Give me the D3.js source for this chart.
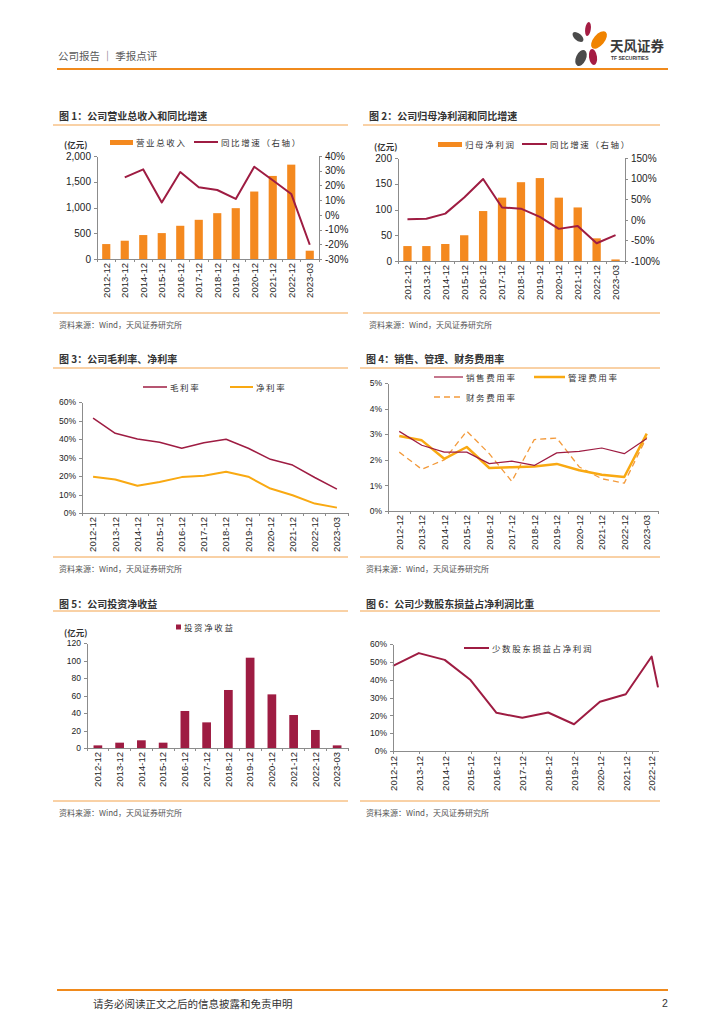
<!DOCTYPE html>
<html>
<head>
<meta charset="utf-8">
<script src="https://cdn.jsdelivr.net/npm/d3@7"></script>
<style>
  body { margin: 0; background: #fff; }
  svg { font-family: 'Liberation Sans', Arial, 'Noto Sans CJK SC', sans-serif; }
  .cn { font-family: 'Noto Sans CJK SC', sans-serif; }
  .axis path, .axis line { stroke: #8c8c8c; shape-rendering: crispEdges; }
  .axis text { fill: #222; }
</style>
</head>
<body>
<svg id="page" width="724" height="1024"></svg>
<script>
const years = ['2012-12', '2013-12', '2014-12', '2015-12', '2016-12', '2017-12',
               '2018-12', '2019-12', '2020-12', '2021-12', '2022-12', '2023-03']

// 图1 营业总收入(亿元) / 同比增速(%)
const revenue = [290, 355, 465, 503, 645, 761, 890, 987, 1310, 1613, 1832, 161]
const revenueYoy = [null, 25.5, 30.9, 8.4, 29.1, 18.7, 16.9, 10.8, 32.7, 23.5, 14.2, -20.3]
// 图2 归母净利润(亿元) / 同比增速(%)
const netProfit = [29, 29, 33, 50, 97, 123, 153, 161, 123, 104, 44, 3]
const netProfitYoy = [1.6, 2.4, 15, 54, 99, 30, 27, 7, -22, -15, -57, -37]
// 图3 毛利率 / 净利率 (%)
const grossMargin = [51.3, 43.1, 40.0, 38.2, 35.0, 38.0, 39.9, 35.0, 29.0, 25.9, 19.2, 12.9]
const netMargin = [19.6, 18.1, 14.7, 16.8, 19.4, 20.1, 22.3, 19.6, 13.2, 9.6, 5.1, 2.9]
// 图4 费用率 (%)
const salesRate = [3.11, 2.57, 2.30, 2.30, 1.85, 1.95, 1.78, 2.27, 2.33, 2.46, 2.24, 2.83]
const adminRate = [2.93, 2.76, 2.04, 2.50, 1.68, 1.71, 1.74, 1.84, 1.59, 1.42, 1.33, 3.02]
const financeRate = [2.30, 1.63, 2.00, 3.12, 2.24, 1.16, 2.79, 2.85, 1.72, 1.26, 1.09, 2.89]
// 图5 投资净收益(亿元)
const investIncome = [3.0, 6.1, 8.8, 6.1, 42.3, 29.3, 66.3, 103.2, 61.3, 37.7, 20.6, 3.0]
// 图6 少数股东损益占净利润 (%)
const minorityShare = [47.7, 54.9, 51.1, 39.8, 21.4, 18.6, 21.6, 15.0, 27.6, 31.8, 53.0, 35.7]

const orange = '#f4891f'
const crimson = '#9e1c42'
const yellow = '#f9a912'
const dashOrange = '#f39a3b'
const rule = '#f3a34c'

const svg = d3.select('#page')

// page header / footer
svg.append('text').attr('class', 'cn').attr('x', 58).attr('y', 55)
   .attr('dominant-baseline', 'central').style('font-size', '10.5px').attr('fill', '#595959')
   .text('公司报告 ｜ 季报点评')
svg.append('line').attr('x1', 57).attr('x2', 668).attr('y1', 69).attr('y2', 69)
   .attr('stroke', '#f08a1c').attr('stroke-width', 2)

let logo = svg.append('g')
logo.append('ellipse').attr('cx', 578).attr('cy', 37).attr('rx', 3.5).attr('ry', 6.5)
    .attr('transform', 'rotate(-50,578,37)').attr('fill', '#4b4b4b')
logo.append('ellipse').attr('cx', 588).attr('cy', 29).attr('rx', 2.8).attr('ry', 7)
    .attr('transform', 'rotate(8,588,29)').attr('fill', '#a51c43')
logo.append('ellipse').attr('cx', 599).attr('cy', 40).attr('rx', 5.5).attr('ry', 10.5)
    .attr('transform', 'rotate(40,599,40)').attr('fill', '#f08300')
logo.append('ellipse').attr('cx', 581).attr('cy', 58).attr('rx', 5).attr('ry', 8.5)
    .attr('transform', 'rotate(25,581,58)').attr('fill', '#4b4b4b')
logo.append('ellipse').attr('cx', 593).attr('cy', 57).attr('rx', 4).attr('ry', 8)
    .attr('transform', 'rotate(-8,593,57)').attr('fill', '#a51c43')
logo.append('text').attr('class', 'cn').attr('x', 610).attr('y', 45).attr('dominant-baseline', 'central')
    .style('font-size', '13.5px').style('font-weight', 'bold').attr('fill', '#3a3a3a').text('天风证券')
logo.append('text').attr('x', 611).attr('y', 58).attr('dominant-baseline', 'central')
    .style('font-size', '5px').style('font-weight', 'bold').attr('fill', '#3a3a3a').text('TF SECURITIES')

svg.append('line').attr('x1', 57).attr('x2', 668).attr('y1', 990).attr('y2', 990)
   .attr('stroke', '#f08a1c').attr('stroke-width', 2)
svg.append('text').attr('class', 'cn').attr('x', 93).attr('y', 1003).attr('dominant-baseline', 'central')
   .style('font-size', '10.5px').attr('fill', '#333').text('请务必阅读正文之后的信息披露和免责申明')
svg.append('text').attr('x', 662).attr('y', 1003).attr('dominant-baseline', 'central')
   .style('font-size', '10.5px').attr('fill', '#333').text('2')

function panel(x0, x1, titleY, ruleY, bottomY, title) {
  svg.append('text').attr('class', 'cn').attr('x', x0 + 6).attr('y', titleY)
     .attr('dominant-baseline', 'central').style('font-size', '10px').style('font-weight', 'bold')
     .attr('fill', '#333').text(title)
  svg.append('line').attr('x1', x0).attr('x2', x1).attr('y1', ruleY).attr('y2', ruleY)
     .attr('stroke', rule).attr('stroke-width', 1)
  svg.append('line').attr('x1', x0).attr('x2', x1).attr('y1', bottomY).attr('y2', bottomY)
     .attr('stroke', rule).attr('stroke-width', 1)
  svg.append('text').attr('class', 'cn').attr('x', x0 + 6).attr('y', bottomY + 11)
     .attr('dominant-baseline', 'central').style('font-size', '8px').attr('fill', '#555')
     .text('资料来源：Wind，天风证券研究所')
}

function categoryAxis(left, right, bottom) {
  let x = d3.scaleBand().domain(years).range([left, right])
  let g = svg.append('g').attr('class', 'axis').attr('transform', 'translate(0,' + bottom + ')')
  g.call(d3.axisBottom(x).tickSize(0).tickSizeOuter(0))
  g.selectAll('text')
   .attr('transform', 'rotate(-90)')
   .attr('x', -4).attr('y', 0).attr('dy', '0.35em')
   .style('text-anchor', 'end').style('font-size', '9.5px')
  g.selectAll('.boundary')
   .data(d3.range(years.length + 1))
   .enter().append('line')
   .attr('class', 'boundary')
   .attr('x1', i => left + i * x.step()).attr('x2', i => left + i * x.step())
   .attr('y1', 0).attr('y2', 3)
  return x
}

function valueAxis(y, xPos, side, ticks, fmt, size) {
  let axis = side === 'left' ? d3.axisLeft(y) : d3.axisRight(y)
  axis.tickValues(ticks).tickFormat(fmt).tickSize(3).tickSizeOuter(0).tickPadding(3)
  let g = svg.append('g').attr('class', 'axis').attr('transform', 'translate(' + xPos + ',0)').call(axis)
  g.selectAll('text').style('font-size', size)
}

function legendLine(x, y, w, color, width, dash, label) {
  svg.append('line').attr('x1', x).attr('x2', x + w).attr('y1', y).attr('y2', y)
     .attr('stroke', color).attr('stroke-width', width).attr('stroke-dasharray', dash)
  legendText(x + w + 3, y, label)
}

function legendText(x, y, label) {
  svg.append('text').attr('class', 'cn').attr('x', x).attr('y', y)
     .attr('dominant-baseline', 'central').style('font-size', '8.5px').style('letter-spacing', '1.6px')
     .attr('fill', '#333').text(label)
}

function unitLabel(x, y) {
  svg.append('text').attr('class', 'cn').attr('x', x).attr('y', y).attr('dominant-baseline', 'central')
     .style('font-size', '8.5px').style('font-weight', 'bold').attr('fill', '#333').text('(亿元)')
}

function bars(x, y, values, color, frac) {
  let w = x.step() * frac
  svg.append('g').selectAll('rect')
     .data(values)
     .enter().append('rect')
     .attr('x', (d, i) => x(years[i]) + (x.bandwidth() - w) / 2)
     .attr('y', d => y(d))
     .attr('width', w)
     .attr('height', d => y(0) - y(d))
     .attr('fill', color)
}

function seriesLine(x, y, values, color, width, dash) {
  let line = d3.line()
      .defined(d => d != null)
      .x((d, i) => x(years[i]) + x.bandwidth() / 2)
      .y(d => y(d))
  svg.append('path')
     .datum(values)
     .attr('d', line)
     .attr('fill', 'none')
     .attr('stroke', color)
     .attr('stroke-width', width)
     .attr('stroke-dasharray', dash)
     .attr('stroke-linejoin', 'round')
}

const pct = d => d + '%'

// ---- 图1
panel(53, 348, 115, 125, 313, '图 1：公司营业总收入和同比增速')
let y1 = d3.scaleLinear().domain([0, 2000]).range([259, 156])
let y1r = d3.scaleLinear().domain([-30, 40]).range([259, 156])
let x1 = categoryAxis(97, 319, 259)
bars(x1, y1, revenue, orange, 0.44)
seriesLine(x1, y1r, revenueYoy, crimson, 2)
valueAxis(y1, 97, 'left', d3.range(0, 2001, 500), d3.format(','), '10px')
valueAxis(y1r, 319, 'right', d3.range(-30, 41, 10), pct, '10px')
unitLabel(64, 144)
svg.append('rect').attr('x', 110).attr('y', 140).attr('width', 23).attr('height', 5).attr('fill', orange)
legendText(136, 142, '营业总收入')
legendLine(194, 142, 24, crimson, 2, null, '同比增速（右轴）')

// ---- 图2
panel(363, 660, 115, 125, 313, '图 2：公司归母净利润和同比增速')
let y2 = d3.scaleLinear().domain([0, 200]).range([261, 158])
let y2r = d3.scaleLinear().domain([-100, 150]).range([261, 158])
let x2 = categoryAxis(398, 625, 261)
bars(x2, y2, netProfit, orange, 0.44)
seriesLine(x2, y2r, netProfitYoy, crimson, 2)
valueAxis(y2, 398, 'left', d3.range(0, 201, 50), d3.format('d'), '10px')
valueAxis(y2r, 625, 'right', d3.range(-100, 151, 50), pct, '10px')
unitLabel(374, 146)
svg.append('rect').attr('x', 438).attr('y', 142).attr('width', 24).attr('height', 5).attr('fill', orange)
legendText(465, 144, '归母净利润')
legendLine(522, 144, 25, crimson, 2, null, '同比增速（右轴）')

// ---- 图3
panel(53, 348, 358, 368, 557, '图 3：公司毛利率、净利率')
let y3 = d3.scaleLinear().domain([0, 60]).range([513, 402])
let x3 = categoryAxis(82, 348, 513)
seriesLine(x3, y3, grossMargin, crimson, 1.5)
seriesLine(x3, y3, netMargin, yellow, 2)
valueAxis(y3, 82, 'left', d3.range(0, 61, 10), pct, '8.5px')
legendLine(143, 387, 24, crimson, 1.5, null, '毛利率')
legendLine(230, 387, 23, yellow, 2, null, '净利率')

// ---- 图4
panel(360, 660, 358, 368, 557, '图 4：销售、管理、财务费用率')
let y4 = d3.scaleLinear().domain([0, 5]).range([511, 383])
let x4 = categoryAxis(388, 658, 511)
seriesLine(x4, y4, financeRate, dashOrange, 1.3, '6,4')
seriesLine(x4, y4, adminRate, yellow, 2.5)
seriesLine(x4, y4, salesRate, crimson, 1.2)
valueAxis(y4, 388, 'left', d3.range(0, 6, 1), pct, '8.5px')
legendLine(434, 377, 29, crimson, 1.2, null, '销售费用率')
legendLine(534, 377, 31, yellow, 2.5, null, '管理费用率')
legendLine(434, 397, 29, dashOrange, 1.3, '6,4', '财务费用率')

// ---- 图5
panel(53, 348, 603, 611, 801, '图 5：公司投资净收益')
let y5 = d3.scaleLinear().domain([0, 120]).range([748, 643])
let x5 = categoryAxis(87, 348, 748)
bars(x5, y5, investIncome, crimson, 0.4)
valueAxis(y5, 87, 'left', d3.range(0, 121, 20), d3.format('d'), '8.5px')
unitLabel(64, 632)
svg.append('rect').attr('x', 176).attr('y', 624.5).attr('width', 5).attr('height', 5).attr('fill', crimson)
legendText(184, 627, '投资净收益')

// ---- 图6 (date axis, last point is a quarter)
panel(360, 660, 603, 611, 801, '图 6：公司少数股东损益占净利润比重')
let parseMonth = d3.timeParse('%Y-%m')
let dates = years.map(parseMonth)
let x6 = d3.scaleTime().domain(d3.extent(dates)).range([393, 658])
let y6 = d3.scaleLinear().domain([0, 60]).range([751, 644])
let g6 = svg.append('g').attr('class', 'axis').attr('transform', 'translate(0,751)')
  .call(d3.axisBottom(x6).tickValues(dates.slice(0, 11)).tickFormat(d3.timeFormat('%Y-%m')).tickSize(3).tickSizeOuter(0))
g6.selectAll('text')
  .attr('transform', 'rotate(-90)')
  .attr('x', -5).attr('y', 0).attr('dy', '0.35em')
  .style('text-anchor', 'end').style('font-size', '9.5px')
svg.append('path')
   .datum(minorityShare)
   .attr('d', d3.line().x((d, i) => x6(dates[i])).y(d => y6(d)))
   .attr('fill', 'none').attr('stroke', crimson).attr('stroke-width', 2).attr('stroke-linejoin', 'round')
valueAxis(y6, 393, 'left', d3.range(0, 61, 10), pct, '8.5px')
legendLine(464, 648, 25, crimson, 2, null, '少数股东损益占净利润')
</script>
</body>
</html>
